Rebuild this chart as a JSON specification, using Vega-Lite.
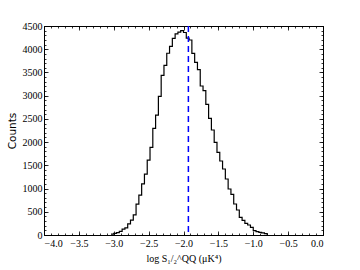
{
  "$schema": "https://vega.github.io/schema/vega-lite/v6.json",
  "width": 279,
  "height": 209,
  "autosize": {"type": "none"},
  "padding": {"left": 44, "top": 26, "right": 37, "bottom": 35},
  "background": "white",
  "config": {
    "view": {"stroke": "black", "strokeWidth": 1},
    "axis": {
      "domain": false,
      "grid": false,
      "labelFont": "Liberation Serif",
      "labelFontSize": 10,
      "labelColor": "black",
      "tickColor": "black",
      "tickWidth": 0.8,
      "titleColor": "black",
      "titleFontWeight": "normal"
    }
  },
  "datasets": {
    "hist": [
      {"x": -3.04, "count": 20},
      {"x": -3.00, "count": 37},
      {"x": -2.96, "count": 50},
      {"x": -2.92, "count": 80},
      {"x": -2.88, "count": 125},
      {"x": -2.84, "count": 155},
      {"x": -2.80, "count": 240},
      {"x": -2.76, "count": 320},
      {"x": -2.72, "count": 435},
      {"x": -2.68, "count": 665},
      {"x": -2.64, "count": 860},
      {"x": -2.60, "count": 1100},
      {"x": -2.56, "count": 1310},
      {"x": -2.52, "count": 1610},
      {"x": -2.48, "count": 1885},
      {"x": -2.44, "count": 2295},
      {"x": -2.40, "count": 2580},
      {"x": -2.36, "count": 2986},
      {"x": -2.32, "count": 3439},
      {"x": -2.28, "count": 3654},
      {"x": -2.24, "count": 3913},
      {"x": -2.20, "count": 4063},
      {"x": -2.16, "count": 4235},
      {"x": -2.12, "count": 4330},
      {"x": -2.08, "count": 4370},
      {"x": -2.04, "count": 4400},
      {"x": -2.00, "count": 4360},
      {"x": -1.96, "count": 4240},
      {"x": -1.92, "count": 4199},
      {"x": -1.88, "count": 3912},
      {"x": -1.84, "count": 3718},
      {"x": -1.80, "count": 3560},
      {"x": -1.76, "count": 3208},
      {"x": -1.72, "count": 3110},
      {"x": -1.68, "count": 2814},
      {"x": -1.64, "count": 2513},
      {"x": -1.60, "count": 2261},
      {"x": -1.56, "count": 1996},
      {"x": -1.52, "count": 1780},
      {"x": -1.48, "count": 1593},
      {"x": -1.44, "count": 1421},
      {"x": -1.40, "count": 1206},
      {"x": -1.36, "count": 990},
      {"x": -1.32, "count": 876},
      {"x": -1.28, "count": 667},
      {"x": -1.24, "count": 538},
      {"x": -1.20, "count": 381},
      {"x": -1.16, "count": 316},
      {"x": -1.12, "count": 252},
      {"x": -1.08, "count": 215},
      {"x": -1.04, "count": 166},
      {"x": -1.00, "count": 93},
      {"x": -0.96, "count": 71},
      {"x": -0.92, "count": 58},
      {"x": -0.88, "count": 45},
      {"x": -0.84, "count": 28},
      {"x": -0.80, "count": 0}
    ],
    "marker": [{"value": -1.93}]
  },
  "layer": [
    {
      "data": {"name": "hist"},
      "mark": {"type": "line", "interpolate": "step-after", "color": "black", "strokeWidth": 1.2},
      "encoding": {
        "x": {
          "field": "x", "type": "quantitative",
          "scale": {"domain": [-4, 0], "nice": false, "zero": false},
          "axis": {
            "orient": "bottom",
            "values": [-4, -3.5, -3, -2.5, -2, -1.5, -1, -0.5, 0],
            "format": ".1f",
            "labelFont": "Liberation Serif",
            "labelFontSize": 10,
            "tickSize": -4,
            "labelPadding": 7,
            "title": "log S₁/₂^QQ (μK⁴)",
            "titleFont": "Liberation Serif",
            "titleFontSize": 10,
            "titlePadding": 5
          }
        },
        "y": {
          "field": "count", "type": "quantitative",
          "scale": {"domain": [0, 4500], "nice": false},
          "axis": {
            "orient": "left",
            "values": [0, 500, 1000, 1500, 2000, 2500, 3000, 3500, 4000, 4500],
            "format": "d",
            "labelFont": "Liberation Serif",
            "labelFontSize": 10,
            "tickSize": -4,
            "labelPadding": 6,
            "title": "Counts",
            "titleFont": "DejaVu Sans",
            "titleFontSize": 10.5,
            "titlePadding": 5
          }
        }
      }
    },
    {
      "data": {"name": "marker"},
      "mark": {"type": "rule", "color": "#0000ff", "strokeWidth": 1.5, "strokeDash": [6, 4]},
      "encoding": {
        "x": {"field": "value", "type": "quantitative", "axis": null}
      }
    },
    {
      "data": {"name": "hist"},
      "mark": {"type": "line", "opacity": 0},
      "encoding": {
        "x": {
          "field": "x", "type": "quantitative",
          "axis": {"orient": "top", "values": [-4, -3.5, -3, -2.5, -2, -1.5, -1, -0.5, 0], "tickSize": -4, "labels": false, "title": null}
        },
        "y": {
          "field": "count", "type": "quantitative",
          "axis": {"orient": "right", "values": [0, 500, 1000, 1500, 2000, 2500, 3000, 3500, 4000, 4500], "tickSize": -4, "labels": false, "title": null}
        }
      }
    },
    {
      "data": {"name": "hist"},
      "mark": {"type": "line", "opacity": 0},
      "encoding": {
        "x": {
          "field": "x", "type": "quantitative",
          "axis": {"orient": "bottom", "values": [-4, -3.9, -3.8, -3.7, -3.6, -3.5, -3.4, -3.3, -3.2, -3.1, -3, -2.9, -2.8, -2.7, -2.6, -2.5, -2.4, -2.3, -2.2, -2.1, -2, -1.9, -1.8, -1.7, -1.6, -1.5, -1.4, -1.3, -1.2, -1.1, -1, -0.9, -0.8, -0.7, -0.6, -0.5, -0.4, -0.3, -0.2, -0.1, 0], "tickSize": -2, "labels": false, "title": null}
        },
        "y": {
          "field": "count", "type": "quantitative",
          "axis": {"orient": "left", "values": [0, 100, 200, 300, 400, 500, 600, 700, 800, 900, 1000, 1100, 1200, 1300, 1400, 1500, 1600, 1700, 1800, 1900, 2000, 2100, 2200, 2300, 2400, 2500, 2600, 2700, 2800, 2900, 3000, 3100, 3200, 3300, 3400, 3500, 3600, 3700, 3800, 3900, 4000, 4100, 4200, 4300, 4400, 4500], "tickSize": -2, "labels": false, "title": null}
        }
      }
    },
    {
      "data": {"name": "hist"},
      "mark": {"type": "line", "opacity": 0},
      "encoding": {
        "x": {
          "field": "x", "type": "quantitative",
          "axis": {"orient": "top", "values": [-4, -3.9, -3.8, -3.7, -3.6, -3.5, -3.4, -3.3, -3.2, -3.1, -3, -2.9, -2.8, -2.7, -2.6, -2.5, -2.4, -2.3, -2.2, -2.1, -2, -1.9, -1.8, -1.7, -1.6, -1.5, -1.4, -1.3, -1.2, -1.1, -1, -0.9, -0.8, -0.7, -0.6, -0.5, -0.4, -0.3, -0.2, -0.1, 0], "tickSize": -2, "labels": false, "title": null}
        },
        "y": {
          "field": "count", "type": "quantitative",
          "axis": {"orient": "right", "values": [0, 100, 200, 300, 400, 500, 600, 700, 800, 900, 1000, 1100, 1200, 1300, 1400, 1500, 1600, 1700, 1800, 1900, 2000, 2100, 2200, 2300, 2400, 2500, 2600, 2700, 2800, 2900, 3000, 3100, 3200, 3300, 3400, 3500, 3600, 3700, 3800, 3900, 4000, 4100, 4200, 4300, 4400, 4500], "tickSize": -2, "labels": false, "title": null}
        }
      }
    }
  ],
  "resolve": {"axis": {"x": "independent", "y": "independent"}}
}
